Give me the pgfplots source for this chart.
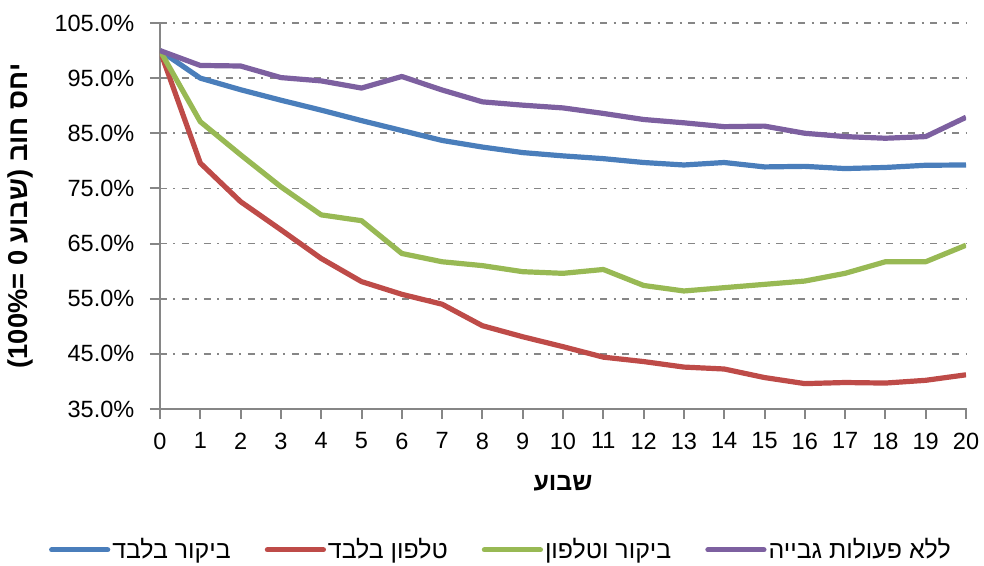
\documentclass[border=0pt,11pt]{standalone}
\usepackage{pgfplots}
\pgfplotsset{compat=1.18}
\usepackage{fontspec}
\setmainfont{Liberation Sans}
\newfontfamily\heb[Script=Hebrew]{Liberation Sans}
\TeXXeTstate=1

\definecolor{cblue}{HTML}{4A7EBB}
\definecolor{cred}{HTML}{BE4B48}
\definecolor{cgreen}{HTML}{98B954}
\definecolor{cpurple}{HTML}{7D60A0}
\definecolor{cgrid}{HTML}{868686}

\begin{document}
\begin{tikzpicture}
\begin{axis}[
    name=ax,
    scale only axis,
    width=403bp, height=193bp,
    xmin=0, xmax=20, ymin=35, ymax=105,
    xtick={0,1,...,20},
    ytick={35,45,...,105},
    axis lines=left,
    axis line style={-, cgrid, line width=1bp},
    tick style={cgrid, line width=1bp},
    tick align=outside,
    major tick length=5bp,
    ymajorgrids,
    grid style={cgrid, line width=0.9bp, dash pattern=on 3.5bp off 3.25bp on 1bp off 3.25bp},
    /pgf/number format/assume math mode=true,
    yticklabel={\pgfmathprintnumber[fixed,fixed zerofill,precision=1]{\tick}\%},
    ticklabel style={font=\fontsize{11.8}{14}\selectfont},
    xticklabel style={yshift=-3bp},
    yticklabel style={xshift=-4bp},
    xlabel={\heb\bfseries\beginR שבוע\endR},
    ylabel={\heb\bfseries\beginR יחס חוב (שבוע 0 =100\%)\endR},
    every axis x label/.style={at={(axis description cs:0.5,-0.1917)}, anchor=center, font=\fontsize{12.5}{15}\selectfont},
    every axis y label/.style={at={(axis description cs:-0.1737,0.5)}, rotate=90, anchor=center, font=\fontsize{13.7}{16}\selectfont},
    legend columns=4,
    legend style={at={(axis description cs:0.423,-0.365)}, anchor=center, draw=none,
        font=\fontsize{12.5}{15}\selectfont,
        nodes={inner xsep=1bp},
        /tikz/every even column/.append style={column sep=16bp}},
    legend image code/.code={\draw[#1, line cap=round] (0bp,0bp) -- (28bp,0bp);},
    every axis plot/.append style={line width=2.6bp, line join=round},
]
% ביקור בלבד
\addplot[cblue] coordinates {
(0,100) (1,95.0) (2,92.9) (3,91.0) (4,89.2) (5,87.3) (6,85.5) (7,83.7)
(8,82.5) (9,81.5) (10,80.9) (11,80.4) (12,79.7) (13,79.25) (14,79.7)
(15,78.9) (16,79.0) (17,78.6) (18,78.8) (19,79.2) (20,79.25)};
\addlegendentry{\heb\beginR ביקור בלבד\endR}
% טלפון בלבד
\addplot[cred] coordinates {
(0,100) (1,79.6) (2,72.6) (3,67.5) (4,62.3) (5,58.1) (6,55.8) (7,54.0)
(8,50.1) (9,48.1) (10,46.3) (11,44.4) (12,43.6) (13,42.6) (14,42.25)
(15,40.7) (16,39.6) (17,39.8) (18,39.7) (19,40.2) (20,41.2)};
\addlegendentry{\heb\beginR טלפון בלבד\endR}
% ביקור וטלפון
\addplot[cgreen] coordinates {
(0,100) (1,87.1) (2,81.1) (3,75.3) (4,70.2) (5,69.15) (6,63.2) (7,61.7)
(8,61.0) (9,59.9) (10,59.6) (11,60.3) (12,57.4) (13,56.4) (14,57.0)
(15,57.6) (16,58.2) (17,59.6) (18,61.7) (19,61.7) (20,64.7)};
\addlegendentry{\heb\beginR ביקור וטלפון\endR}
% ללא פעולות גבייה
\addplot[cpurple] coordinates {
(0,100) (1,97.3) (2,97.2) (3,95.1) (4,94.5) (5,93.2) (6,95.3) (7,92.85)
(8,90.7) (9,90.1) (10,89.6) (11,88.6) (12,87.5) (13,86.9) (14,86.2)
(15,86.3) (16,85.0) (17,84.4) (18,84.1) (19,84.4) (20,87.9)};
\addlegendentry{\heb\beginR ללא פעולות גבייה\endR}
\end{axis}
\pgfresetboundingbox
\path[use as bounding box] ([shift={(-80bp,-78.5bp)}]ax.south west) rectangle ([shift={(9bp,11.5bp)}]ax.north east);
\end{tikzpicture}
\end{document}
